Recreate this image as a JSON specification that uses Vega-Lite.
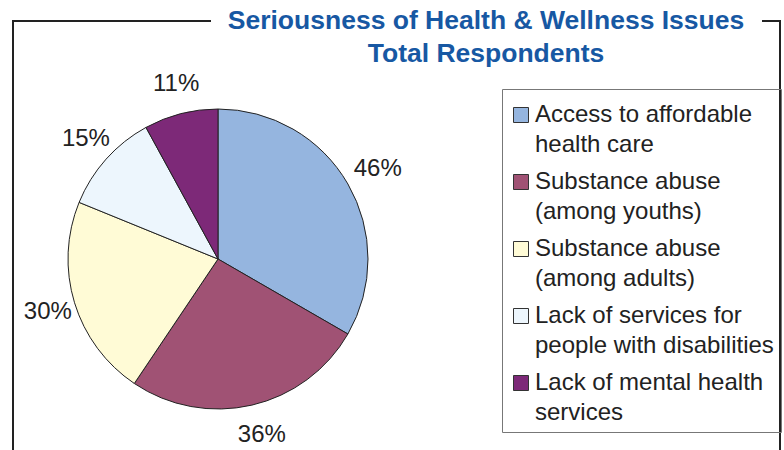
{
  "$schema": "https://vega.github.io/schema/vega-lite/v6.json",
  "width": 300,
  "height": 300,
  "autosize": {"type": "none"},
  "padding": {"left": 68, "top": 109, "right": 416, "bottom": 41},
  "background": "white",
  "config": {"view": {"stroke": null}, "font": "Liberation Sans"},
  "title": {
    "text": ["Seriousness of Health & Wellness Issues", "Total Respondents"],
    "color": "#1758A3",
    "fontSize": 26.5,
    "fontWeight": "bold",
    "font": "Liberation Sans",
    "anchor": "middle",
    "dx": 268,
    "offset": -47,
    "lineHeight": 33
  },
  "data": {
    "values": [
      {"issue": "Access to affordable\nhealth care", "value": 46, "label": "46%", "idx": 1},
      {"issue": "Substance abuse\n(among youths)", "value": 36, "label": "36%", "idx": 2},
      {"issue": "Substance abuse\n(among adults)", "value": 30, "label": "30%", "idx": 3},
      {"issue": "Lack of services for\npeople with disabilities", "value": 15, "label": "15%", "idx": 4},
      {"issue": "Lack of mental health\nservices", "value": 11, "label": "11%", "idx": 5}
    ]
  },
  "layer": [
    {
      "mark": {"type": "arc", "outerRadius": 150, "stroke": "#222222", "strokeWidth": 1},
      "encoding": {
        "theta": {"field": "value", "type": "quantitative", "stack": true},
        "order": {"field": "idx", "type": "ordinal"},
        "color": {
          "field": "issue",
          "type": "nominal",
          "sort": null,
          "scale": {
            "domain": ["Access to affordable\nhealth care", "Substance abuse\n(among youths)", "Substance abuse\n(among adults)", "Lack of services for\npeople with disabilities", "Lack of mental health\nservices"],
            "range": ["#95B5DF", "#A05274", "#FFFBD6", "#EDF6FD", "#7D2978"]
          },
          "legend": {
            "title": " ",
            "titleFontSize": 1,
            "titlePadding": 6,
            "orient": "none",
            "legendX": 434,
            "legendY": -20,
            "strokeColor": "#777777",
            "padding": 7,
            "symbolType": "square",
            "symbolSize": 225,
            "symbolStrokeColor": "#333333",
            "symbolStrokeWidth": 1,
            "labelFontSize": 24,
            "labelFont": "Liberation Sans",
            "labelColor": "#222222",
            "labelLimit": 400,
            "labelOffset": 2,
            "rowPadding": 13,
            "labelExpr": "split(datum.label, '\\n')",
            "encode": {"labels": {"update": {"lineHeight": {"value": 30}, "baseline": {"value": "middle"}}}}
          }
        }
      }
    },
    {
      "mark": {"type": "text", "radius": 181, "fontSize": 24, "font": "Liberation Sans", "color": "#222222", "baseline": "middle", "dx": 3, "dy": 0},
      "encoding": {
        "theta": {"field": "value", "type": "quantitative", "stack": true},
        "order": {"field": "idx", "type": "ordinal"},
        "text": {"field": "label", "type": "nominal"}
      }
    },
    {
      "data": {"values": [{}]},
      "mark": {"type": "rule", "color": "#222222", "strokeWidth": 2},
      "encoding": {"x": {"value": -55}, "y": {"value": -88}, "y2": {"value": 345}}
    },
    {
      "data": {"values": [{}]},
      "mark": {"type": "rule", "color": "#222222", "strokeWidth": 2},
      "encoding": {"x": {"value": 712}, "y": {"value": -88}, "y2": {"value": 345}}
    },
    {
      "data": {"values": [{}]},
      "mark": {"type": "rule", "color": "#222222", "strokeWidth": 2},
      "encoding": {"x": {"value": -56}, "x2": {"value": 143}, "y": {"value": -88}}
    },
    {
      "data": {"values": [{}]},
      "mark": {"type": "rule", "color": "#222222", "strokeWidth": 2},
      "encoding": {"x": {"value": 694}, "x2": {"value": 713}, "y": {"value": -88}}
    }
  ]
}
